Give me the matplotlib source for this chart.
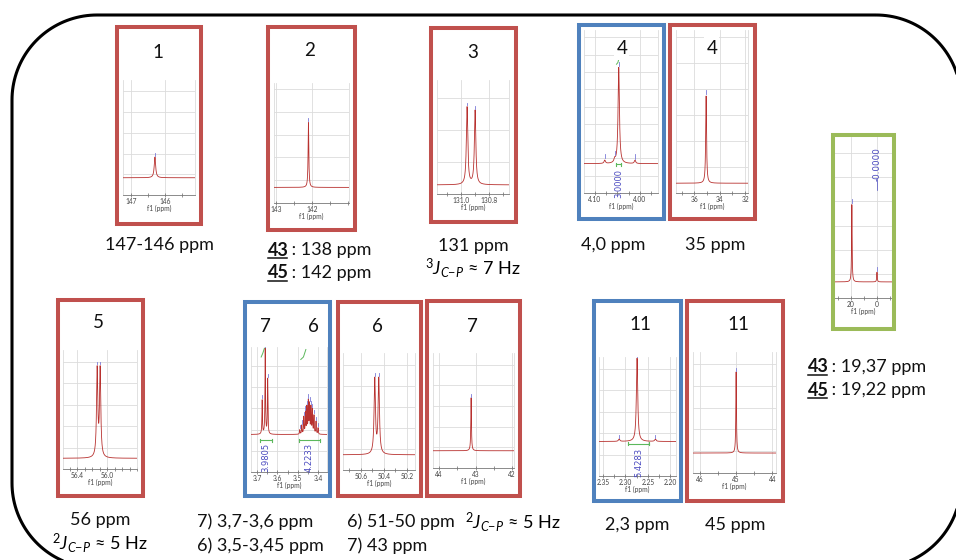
import matplotlib
matplotlib.use('Agg')
import matplotlib.pyplot as plt
import numpy as np
from matplotlib.patches import Rectangle, Polygon
from matplotlib.ticker import FixedLocator, MultipleLocator

plt.rcParams['font.family'] = ['Lato', 'DejaVu Sans']
plt.rcParams['mathtext.fontset'] = 'custom'
plt.rcParams['mathtext.rm'] = 'Lato'
plt.rcParams['mathtext.it'] = 'Lato:italic'

W, H = 956, 560
RED, BLUE, GREEN = '#c0504d', '#4f81bd', '#9bbb59'
LINE = '#b8312f'

# ---- spectra: peak positions (ppm), heights above baseline, baseline level ----
peaks_1, heights_1, base_1 = [146.30], [0.18], 0.15
peaks_2, heights_2, base_2 = [142.10], [0.54], 0.13
peaks_3, heights_3, base_3 = [130.957, 130.900], [0.68, 0.65], 0.08
peaks_4h, heights_4h, base_4h = [4.078, 4.056, 4.047, 4.011], [0.02, 0.02, 0.59, 0.02], 0.18
peaks_4c, heights_4c, base_4c = [35.08], [0.535], 0.06
peaks_p, heights_p, base_p = [19.3, 0.0], [0.48, 0.06], 0.10
peaks_5, heights_5, base_5 = [56.133, 56.093], [0.735, 0.735], 0.09
peaks_76h = [3.675, 3.660, 3.648,
             3.490, 3.480, 3.470, 3.462, 3.455, 3.448, 3.442, 3.435, 3.428, 3.420, 3.410, 3.400]
heights_76h = [0.27, 0.68, 0.44,
               0.035, 0.07, 0.135, 0.17, 0.21, 0.255, 0.23, 0.21, 0.19, 0.145, 0.10, 0.05]
base_76h = 0.30
peaks_6c, heights_6c, base_6c = [50.480, 50.445], [0.64, 0.64], 0.13
peaks_7c, heights_7c, base_7c = [43.12], [0.46], 0.15
peaks_11h, heights_11h, base_11h = [2.314, 2.274, 2.233], [0.02, 0.70, 0.02], 0.29
peaks_11c, heights_11c, base_11c = [45.00], [0.67], 0.165

integrals_4h = [('3.0000', 4.052, 4.042)]
integrals_76h = [('3.9805', 3.688, 3.625), ('4.2233', 3.495, 3.392)]
integrals_11h = [('5.4283', 2.294, 2.247)]

fig = plt.figure(figsize=(W / 100, H / 100), dpi=100)


def add_px_axes(l, t, r, b):
    return fig.add_axes([l / W, 1 - b / H, (r - l) / W, (b - t) / H])


def spectrum(ax, xlim, ticks, labels, minor, peaks, heights, base, gamma,
             ygrid=0.18, marks=True):
    x = np.linspace(xlim[0], xlim[1], 4000)
    y = np.full_like(x, base)
    for p, h in zip(peaks, heights):
        y += h * gamma ** 2 / ((x - p) ** 2 + gamma ** 2)
    ax.plot(x, y, color=LINE, lw=0.6, zorder=3)
    if marks:
        for p in peaks:
            top = base + sum(h * gamma ** 2 / ((p - q) ** 2 + gamma ** 2)
                             for q, h in zip(peaks, heights))
            ax.plot([p, p], [top + 0.01, top + 0.035], color='#7a7ad8', lw=0.6, zorder=4)
    ax.set_xlim(xlim)
    ax.set_ylim(0, 1)
    ax.xaxis.set_major_locator(FixedLocator(ticks))
    ax.set_xticklabels(labels)
    ax.xaxis.set_minor_locator(MultipleLocator(minor))
    ax.set_yticks(np.arange(ygrid, 1.0, ygrid))
    ax.tick_params(axis='y', left=False, labelleft=False)
    ax.tick_params(axis='x', which='both', direction='inout', length=2.2, width=0.5,
                   color='#666666', labelsize=4.8, pad=1, labelcolor='#444444')
    ax.set_xlabel('f1 (ppm)', fontsize=4.8, labelpad=0, color='#444444')
    ax.grid(True, color='#dcdcdc', lw=0.6)
    ax.set_axisbelow(True)
    ax.spines['top'].set_visible(False)
    for s in ['left', 'right']:
        ax.spines[s].set_color('#dcdcdc')
        ax.spines[s].set_linewidth(0.6)
    ax.spines['bottom'].set_color('#777777')
    ax.spines['bottom'].set_linewidth(0.6)
    ax.set_facecolor('white')


def integrals(ax, items, ybar, ylabel):
    for text, x1, x2 in items:
        ax.plot([x1, x2], [ybar, ybar], color='#5cb85c', lw=0.8, zorder=5)
        ax.plot([x1, x1], [ybar - 0.012, ybar + 0.012], color='#5cb85c', lw=0.8)
        ax.plot([x2, x2], [ybar - 0.012, ybar + 0.012], color='#5cb85c', lw=0.8)
        ax.text((x1 + x2) / 2, ylabel, text, rotation=90, ha='center', va='top',
                fontsize=6, color='#4a4ac0', family=['DejaVu Sans'], zorder=5)


# 1
ax = add_px_axes(123, 80, 195, 195)
spectrum(ax, (147.24, 145.12), [147, 146], ['147', '146'], 0.5,
         peaks_1, heights_1, base_1, 0.025)
# 2
ax = add_px_axes(274, 83, 349, 203)
spectrum(ax, (143.06, 140.97), [143, 142], ['143', '142'], 0.5,
         peaks_2, heights_2, base_2, 0.012, ygrid=0.19)
# 3
ax = add_px_axes(437, 80, 509, 194)
spectrum(ax, (131.17, 130.66), [131.0, 130.8], ['131.0', '130.8'], 0.1,
         peaks_3, heights_3, base_3, 0.006, ygrid=0.28)
# 4 (1H)
ax = add_px_axes(584, 30, 658, 193)
spectrum(ax, (4.124, 3.96), [4.10, 4.00], ['4.10', '4.00'], 0.025,
         peaks_4h, heights_4h, base_4h, 0.0018, ygrid=0.106)
integrals(ax, integrals_4h, 0.175, 0.15)
ax.plot([4.052, 4.049, 4.046], [0.79, 0.80, 0.83], color='#5cb85c', lw=0.7)
# 4 (13C)
ax = add_px_axes(676, 30, 748, 193)
spectrum(ax, (37.46, 31.77), [36, 34, 32], ['36', '34', '32'], 1,
         peaks_4c, heights_4c, base_4c, 0.04, ygrid=0.16)
# 31P
ax = add_px_axes(834, 137, 893, 298)
spectrum(ax, (33.0, -12.3), [20, 0], ['20', '0'], 10,
         peaks_p, heights_p, base_p, 0.25, ygrid=0.15)
ax.text(0, 0.83, '-0.0000', rotation=90, ha='center', va='center',
        fontsize=6.3, color='#4a4ac0', family=['DejaVu Sans'])
ax.plot([0, 0], [0.67, 0.74], color='#4a4ac0', lw=0.5)
# 5
ax = add_px_axes(63, 350, 137, 469)
spectrum(ax, (56.59, 55.6), [56.4, 56.0], ['56.4', '56.0'], 0.1,
         peaks_5, heights_5, base_5, 0.01)
# 7 / 6 (1H)
ax = add_px_axes(251, 347, 327, 472)
spectrum(ax, (3.73, 3.356), [3.7, 3.6, 3.5, 3.4], ['3.7', '3.6', '3.5', '3.4'], 0.05,
         peaks_76h, heights_76h, base_76h, 0.0015, ygrid=0.17)
integrals(ax, integrals_76h, 0.255, 0.23)
ax.plot([3.680, 3.672, 3.664], [0.92, 0.95, 0.99], color='#5cb85c', lw=0.7)
ax.plot([3.485, 3.472, 3.460], [0.90, 0.92, 0.98], color='#5cb85c', lw=0.7)
# 6 (13C)
ax = add_px_axes(343, 353, 415, 470)
spectrum(ax, (50.756, 50.13), [50.6, 50.4, 50.2], ['50.6', '50.4', '50.2'], 0.1,
         peaks_6c, heights_6c, base_6c, 0.007)
# 7 (13C)
ax = add_px_axes(433, 353, 514, 468)
spectrum(ax, (44.16, 41.95), [44, 43, 42], ['44', '43', '42'], 0.5,
         peaks_7c, heights_7c, base_7c, 0.01)
# 11 (1H)
ax = add_px_axes(599, 357, 676, 476)
spectrum(ax, (2.359, 2.187), [2.35, 2.30, 2.25, 2.20], ['2.35', '2.30', '2.25', '2.20'], 0.025,
         peaks_11h, heights_11h, base_11h, 0.0018)
integrals(ax, integrals_11h, 0.27, 0.24)
# 11 (13C)
ax = add_px_axes(693, 352, 776, 473)
spectrum(ax, (46.19, 43.9), [46, 45, 44], ['46', '45', '44'], 0.5,
         peaks_11c, heights_11c, base_11c, 0.01, ygrid=0.18)

# ---- overlay in pixel coordinates ----
ov = fig.add_axes([0, 0, 1, 1], zorder=10)
ov.set_xlim(0, W)
ov.set_ylim(H, 0)
ov.axis('off')
ov.patch.set_alpha(0)

# rounded outer box (runs off the right and bottom edges)
x0, y0, x1, y1, r = 12, 15, 961, 568, 85
pts = []
for cx, cy, a0 in [(x1 - r, y0 + r, -90), (x1 - r, y1 - r, 0), (x0 + r, y1 - r, 90), (x0 + r, y0 + r, 180)]:
    a = np.radians(np.linspace(a0, a0 + 90, 40))
    pts.append(np.column_stack([cx + r * np.cos(a), cy + r * np.sin(a)]))
ov.add_patch(Polygon(np.vstack(pts), closed=True, fill=False, ec='black', lw=2.2,
                     joinstyle='round'))

frames = [(115, 25, 203, 226, RED), (266, 25, 357, 232, RED), (429, 26, 518, 224, RED),
          (577, 23, 666, 221, BLUE), (668, 23, 757, 221, RED), (831, 133, 896, 331, GREEN),
          (56, 298, 145, 498, RED), (243, 300, 332, 498, BLUE), (336, 300, 423, 498, RED),
          (425, 299, 522, 498, RED), (592, 299, 683, 503, BLUE), (685, 299, 785, 503, RED)]
for l, t, rr, b, c in frames:
    ov.add_patch(Rectangle((l + 2, t + 2), rr - l - 4, b - t - 4, fill=False, ec=c, lw=2.9))

titles = [('1', 158, 53), ('2', 310, 50), ('3', 473, 52), ('4', 622, 49), ('4', 712, 48),
          ('5', 98, 323), ('7', 265, 327), ('6', 313, 327), ('6', 377, 327), ('7', 472, 327),
          ('11', 640, 324), ('11', 738, 324)]
for s, x, y in titles:
    ov.text(x, y, s, ha='center', va='center', fontsize=13.5, color='#111111',
            bbox=dict(fc='white', ec='none', pad=1.5))

TS = 13
centered = [('147-146 ppm', 159, 245), ('131 ppm', 473, 246), ('4,0 ppm', 613, 245),
            ('35 ppm', 715, 245), ('56 ppm', 100, 520), ('2,3 ppm', 637, 525),
            ('45 ppm', 735, 525)]
for s, x, y in centered:
    ov.text(x, y, s, ha='center', va='center', fontsize=TS, color='#111111')

ov.text(473, 268, r'$^{3}J_{C\mathrm{-}P}$ ≈ 7 Hz', ha='center', va='center', fontsize=TS)
ov.text(100, 543, r'$^{2}J_{C\mathrm{-}P}$ ≈ 5 Hz', ha='center', va='center', fontsize=TS)
ov.text(465, 522, r'$^{2}J_{C\mathrm{-}P}$ ≈ 5 Hz', ha='left', va='center', fontsize=TS)

left_texts = [('7) 3,7-3,6 ppm', 197, 522), ('6) 3,5-3,45 ppm', 197, 546),
              ('6) 51-50 ppm', 347, 522), ('7) 43 ppm', 347, 546)]
for s, x, y in left_texts:
    ov.text(x, y, s, ha='left', va='center', fontsize=TS, color='#111111')

bold_lines = [('43', ' : 138 ppm', 268, 250), ('45', ' : 142 ppm', 268, 273),
              ('43', ' : 19,37 ppm', 808, 367), ('45', ' : 19,22 ppm', 808, 390)]
for b, rest, x, y in bold_lines:
    ov.text(x, y, b, ha='left', va='center', fontsize=TS, fontweight='bold', color='#111111')
    ov.text(x + 19, y, rest, ha='left', va='center', fontsize=TS, color='#111111')
    ov.plot([x, x + 19], [y + 8, y + 8], color='#111111', lw=1.1)

fig.savefig('out.png', dpi=100)
